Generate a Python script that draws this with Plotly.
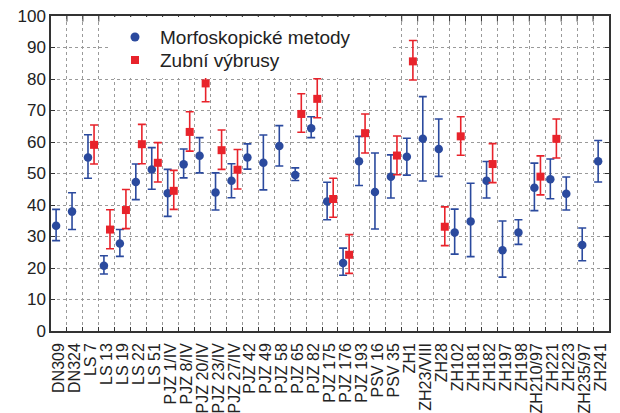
import plotly.graph_objects as go

# Samples (x axis labels)
categories = [
    "DN309", "DN324", "LS 7", "LS 13", "LS 19", "LS 22", "LS 51",
    "PJZ 1/IV", "PJZ 8/IV", "PJZ 20/IV", "PJZ 23/IV", "PJZ 27/IV",
    "PJZ 42", "PJZ 49", "PJZ 58", "PJZ 65", "PJZ 82", "PJZ 175",
    "PJZ 176", "PJZ 193", "PSV 16", "PSV 35", "ZH1", "ZH23/VIII",
    "ZH28", "ZH102", "ZH181", "ZH182", "ZH197", "ZH198", "ZH210/97",
    "ZH221", "ZH223", "ZH235/97", "ZH241",
]

# Morfoskopické metody: estimate, lower and upper bound
morfo_mid = [33.4, 37.9, 55.1, 20.7, 27.8, 47.3, 51.3, 43.7, 52.9, 55.6,
             44.0, 47.7, 55.1, 53.4, 58.7, 49.5, 64.4, 41.1, 21.6, 53.9,
             44.1, 49.0, 55.3, 61.0, 57.8, 31.3, 34.8, 47.7, 25.6, 31.3,
             45.5, 48.2, 43.6, 27.3, 53.9]
morfo_low = [28.7, 32.2, 48.5, 18.1, 23.7, 41.7, 45.0, 36.4, 48.6, 50.2,
             38.4, 42.3, 51.4, 44.8, 52.4, 47.8, 61.4, 35.3, 17.7, 46.2,
             32.4, 42.2, 49.5, 47.6, 49.1, 24.4, 23.6, 42.2, 17.1, 27.5,
             38.2, 42.0, 38.4, 22.3, 47.3]
morfo_high = [38.6, 43.9, 62.3, 23.9, 32.2, 53.0, 58.2, 51.3, 57.8, 61.4,
              50.2, 53.1, 59.4, 62.2, 65.2, 51.8, 68.0, 47.2, 26.3, 61.8,
              56.5, 55.9, 61.2, 74.4, 67.3, 38.7, 46.9, 53.8, 34.9, 35.3,
              53.3, 54.6, 48.9, 32.7, 60.5]

# Zubní výbrusy: estimate, lower and upper bound (None = not measured)
zub_mid = [None, None, 59.1, 32.2, 38.4, 59.3, 53.4, 44.5, 63.2, 78.6,
           57.4, 51.2, None, None, None, 68.9, 73.7, 41.9, 24.2, 62.8,
           None, 55.7, 85.6, None, 33.1, 61.8, None, 53.0, None, None,
           49.0, 61.0, None, None, None]
zub_low = [None, None, 53.0, 26.1, 32.5, 53.1, 47.3, 38.6, 57.1, 72.8,
           51.3, 45.1, None, None, None, 63.1, 67.7, 36.1, 18.3, 56.5,
           None, 49.6, 79.7, None, 27.1, 55.8, None, 47.1, None, None,
           43.2, 54.9, None, None, None]
zub_high = [None, None, 65.4, 38.5, 44.9, 65.6, 59.8, 51.0, 69.6, 84.4,
            63.8, 57.6, None, None, None, 75.3, 80.1, 48.5, 30.6, 68.9,
            None, 61.9, 92.2, None, 39.4, 68.0, None, 59.5, None, None,
            55.6, 67.3, None, None, None]

series_names = ["Morfoskopické metody", "Zubní výbrusy"]

y_ticks = list(range(0, 101, 10))

BLUE = "#2B4A9E"
RED = "#E8232B"
GRID = "#9a9a9a"
AXIS = "#333333"
TEXT = "#222222"
FONT = "Liberation Sans, Arial, sans-serif"

pos = list(range(1, len(categories) + 1))
boundaries = [p + 0.5 for p in pos[:-1]]


def err_plus(mid, high):
    return [None if m is None else h - m for m, h in zip(mid, high)]


def err_minus(mid, low):
    return [None if m is None else m - l for m, l in zip(mid, low)]


fig = go.Figure()

fig.add_trace(go.Scatter(
    x=[p - 0.18 for p in pos], y=morfo_mid, mode="markers",
    name=series_names[0], showlegend=False,
    marker=dict(symbol="circle", size=8.5, color=BLUE),
    error_y=dict(type="data", symmetric=False,
                 array=err_plus(morfo_mid, morfo_high),
                 arrayminus=err_minus(morfo_mid, morfo_low),
                 color=BLUE, thickness=1.6, width=4),
))

fig.add_trace(go.Scatter(
    x=[p + 0.2 for p in pos], y=zub_mid, mode="markers",
    name=series_names[1], showlegend=False,
    marker=dict(symbol="square", size=8, color=RED),
    error_y=dict(type="data", symmetric=False,
                 array=err_plus(zub_mid, zub_high),
                 arrayminus=err_minus(zub_mid, zub_low),
                 color=RED, thickness=1.6, width=4),
))

# small inward ticks along the top edge at the category boundaries
fig.add_trace(go.Scatter(
    x=boundaries, y=[100] * len(boundaries), mode="markers",
    marker=dict(symbol="line-ns", size=8, line=dict(width=1, color=AXIS)),
    showlegend=False, hoverinfo="skip", cliponaxis=True,
))

# legend: white panel, key symbols and labels
fig.add_shape(type="rect", xref="x", yref="y",
              x0=4.2, x1=21.95, y0=80.3, y1=99.7,
              fillcolor="white", line_width=0, layer="above")

key_x = 0.1505
label_x = 0.1918
row_y = [0.9333, 0.8603]

fig.add_shape(type="circle", xref="paper", yref="paper",
              xsizemode="pixel", ysizemode="pixel",
              xanchor=key_x, yanchor=row_y[0],
              x0=-4.5, x1=4.5, y0=-4.5, y1=4.5,
              fillcolor=BLUE, line_width=0, layer="above")
fig.add_shape(type="rect", xref="paper", yref="paper",
              xsizemode="pixel", ysizemode="pixel",
              xanchor=key_x, yanchor=row_y[1],
              x0=-4, x1=4, y0=-4, y1=4,
              fillcolor=RED, line_width=0, layer="above")

for name, ry in zip(series_names, row_y):
    fig.add_annotation(text=name, xref="paper", yref="paper",
                       x=label_x, y=ry, xanchor="left", yanchor="middle",
                       showarrow=False,
                       font=dict(size=19, family=FONT, color=TEXT))

fig.update_layout(
    width=620, height=413,
    margin=dict(l=51, r=11, t=16, b=82),
    paper_bgcolor="white", plot_bgcolor="white",
    font=dict(family=FONT, size=16, color=TEXT),
    showlegend=False,
    xaxis=dict(
        range=[0.5, len(categories) + 0.5], automargin=False,
        tickmode="array", tickvals=pos, ticktext=categories,
        tickangle=-90, ticks="", showgrid=False, zeroline=False,
        ticklabelstandoff=4,
        showline=True, linecolor=AXIS, linewidth=1.5, mirror=True,
        tickfont=dict(size=16, family=FONT, color=TEXT),
        minor=dict(tickmode="array", tickvals=boundaries, ticks="inside",
                   ticklen=4, tickcolor=AXIS, tickwidth=1,
                   showgrid=True, gridcolor=GRID, griddash="dot",
                   gridwidth=1),
    ),
    yaxis=dict(
        range=[0, 100], tickmode="array", tickvals=y_ticks,
        automargin=False,
        ticks="inside", ticklen=4, tickcolor=AXIS,
        showgrid=True, gridcolor=GRID, griddash="dot", gridwidth=1,
        zeroline=False, showline=True, linecolor=AXIS,
        linewidth=1.5, mirror="ticks",
        tickfont=dict(size=17, family=FONT, color=TEXT),
    ),
)

fig.write_html("out.html")
